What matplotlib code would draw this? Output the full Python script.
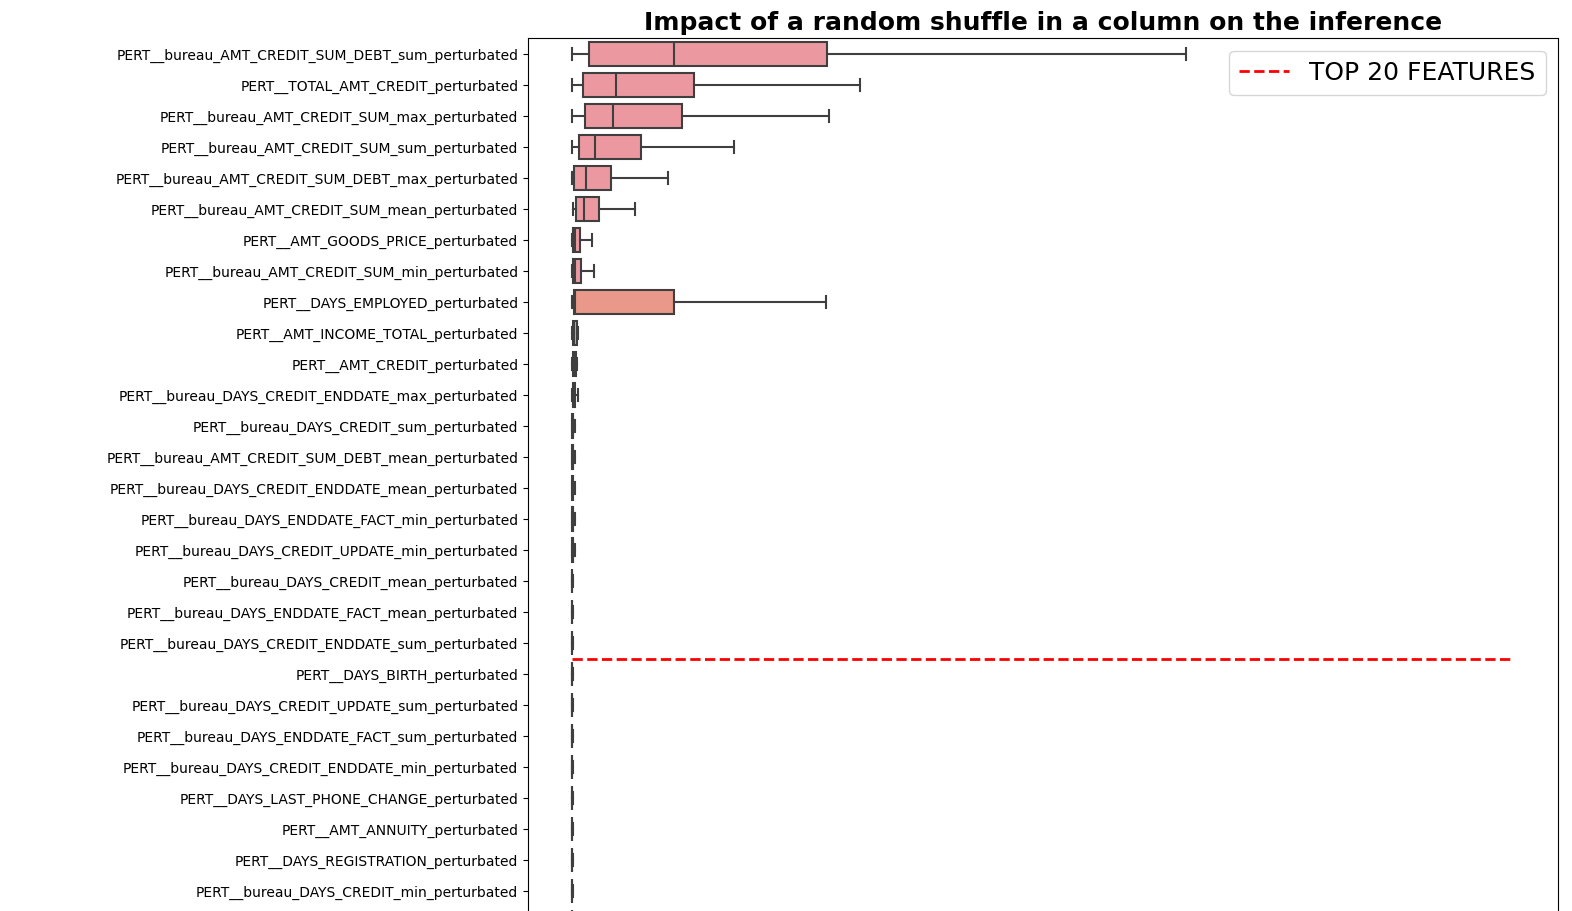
import matplotlib
matplotlib.use("Agg")
from matplotlib import pyplot as plt

# feature names, top to bottom
features = [
    "PERT__bureau_AMT_CREDIT_SUM_DEBT_sum_perturbated",
    "PERT__TOTAL_AMT_CREDIT_perturbated",
    "PERT__bureau_AMT_CREDIT_SUM_max_perturbated",
    "PERT__bureau_AMT_CREDIT_SUM_sum_perturbated",
    "PERT__bureau_AMT_CREDIT_SUM_DEBT_max_perturbated",
    "PERT__bureau_AMT_CREDIT_SUM_mean_perturbated",
    "PERT__AMT_GOODS_PRICE_perturbated",
    "PERT__bureau_AMT_CREDIT_SUM_min_perturbated",
    "PERT__DAYS_EMPLOYED_perturbated",
    "PERT__AMT_INCOME_TOTAL_perturbated",
    "PERT__AMT_CREDIT_perturbated",
    "PERT__bureau_DAYS_CREDIT_ENDDATE_max_perturbated",
    "PERT__bureau_DAYS_CREDIT_sum_perturbated",
    "PERT__bureau_AMT_CREDIT_SUM_DEBT_mean_perturbated",
    "PERT__bureau_DAYS_CREDIT_ENDDATE_mean_perturbated",
    "PERT__bureau_DAYS_ENDDATE_FACT_min_perturbated",
    "PERT__bureau_DAYS_CREDIT_UPDATE_min_perturbated",
    "PERT__bureau_DAYS_CREDIT_mean_perturbated",
    "PERT__bureau_DAYS_ENDDATE_FACT_mean_perturbated",
    "PERT__bureau_DAYS_CREDIT_ENDDATE_sum_perturbated",
    "PERT__DAYS_BIRTH_perturbated",
    "PERT__bureau_DAYS_CREDIT_UPDATE_sum_perturbated",
    "PERT__bureau_DAYS_ENDDATE_FACT_sum_perturbated",
    "PERT__bureau_DAYS_CREDIT_ENDDATE_min_perturbated",
    "PERT__DAYS_LAST_PHONE_CHANGE_perturbated",
    "PERT__AMT_ANNUITY_perturbated",
    "PERT__DAYS_REGISTRATION_perturbated",
    "PERT__bureau_DAYS_CREDIT_min_perturbated",
    "",
]

# box stats (whislo, q1, med, q3, whishi), arbitrary units
whislo = [0, 0, 0, 0, 0, 0.01, 0, 0, 0, 0, 0, 0, 0, 0, 0, 0, 0] + [0] * 12
q1 = [0.17, 0.11, 0.13, 0.07, 0.02, 0.04, 0.01, 0.01, 0.02, 0.01, 0.01, 0.01, 0.002, 0.002, 0.002, 0.002, 0.002] + [0] * 12
med = [1.02, 0.44, 0.41, 0.23, 0.14, 0.12, 0.03, 0.03, 0.03, 0.02, 0.02, 0.015, 0.005, 0.005, 0.005, 0.005, 0.005] + [0] * 12
q3 = [2.55, 1.22, 1.10, 0.69, 0.39, 0.27, 0.08, 0.09, 1.02, 0.05, 0.04, 0.03, 0.01, 0.01, 0.01, 0.01, 0.01] + [0] * 12
whishi = [6.13, 2.88, 2.57, 1.62, 0.96, 0.63, 0.20, 0.22, 2.54, 0.06, 0.05, 0.06, 0.03, 0.03, 0.03, 0.03, 0.03] + [0.005] * 12
top_n = 20
line_end = 9.37

fig = plt.figure(figsize=(15.72, 9.11), dpi=100)
ax = fig.add_axes([528 / 1572, 0, 1030 / 1572, 1 - 38 / 911])

stats = []
for i in range(len(features)):
    stats.append(dict(whislo=whislo[i], q1=q1[i], med=med[i], q3=q3[i], whishi=whishi[i], fliers=[]))

line_kw = dict(color="#3f3f3f", linewidth=1.5)
bp = ax.bxp(stats, positions=range(len(features)), vert=False, widths=0.8, patch_artist=True,
            showfliers=False, boxprops=line_kw, medianprops=line_kw, whiskerprops=line_kw,
            capprops=line_kw, capwidths=0.4)
for i, b in enumerate(bp["boxes"]):
    b.set_facecolor("#e9988a" if i == 8 else "#ec98a0")

ax.plot([0, line_end], [top_n - 0.5, top_n - 0.5], "r--", linewidth=2, label="TOP %d FEATURES" % top_n)

ax.set_yticks(range(len(features)))
ax.set_yticklabels(features, fontsize=10)
ax.set_ylim((911 - 54) / 31, -16 / 31)
ax.set_xlim(-0.44, 9.85)
ax.set_xticks([])
ax.spines["bottom"].set_visible(False)
ax.set_title("Impact of a random shuffle in a column on the inference", fontsize=18, fontweight="bold")
ax.legend(loc="upper right", fontsize=18)

plt.savefig("out.png")
